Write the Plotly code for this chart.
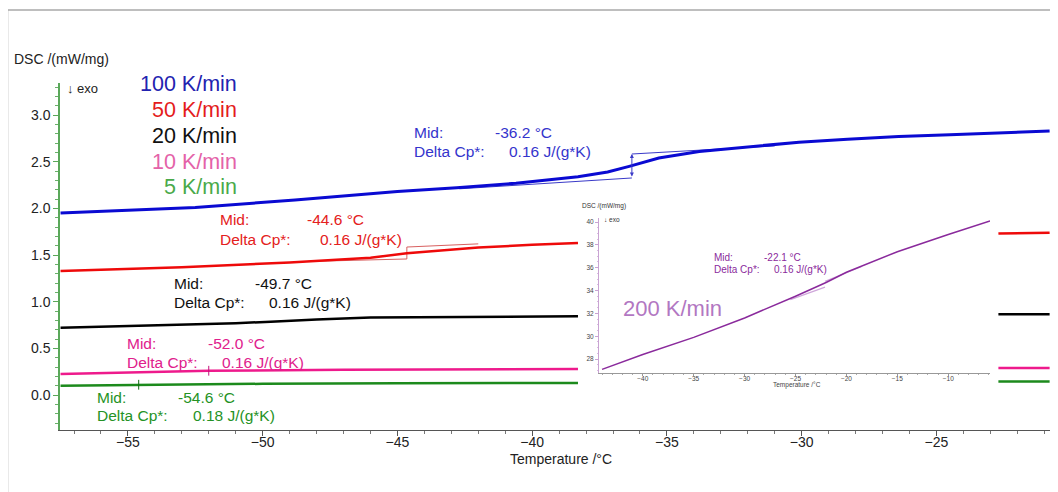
import plotly.graph_objects as go

# ---------------- data ----------------
rate_labels = ["100 K/min", "50 K/min", "20 K/min", "10 K/min", "5 K/min"]

blue_T = [-57.5, -52.5, -48.8, -45.0, -42.8, -40.6, -38.3, -37.2, -36.4, -35.3, -33.8, -32.0, -30.1, -28.3, -26.4, -24.5, -22.7, -20.8]
blue_v = [1.95, 2.01, 2.09, 2.18, 2.22, 2.27, 2.34, 2.39, 2.45, 2.54, 2.61, 2.66, 2.71, 2.74, 2.77, 2.79, 2.81, 2.83]

red_T = [-57.5, -53.0, -49.0, -46.0, -44.65, -42.0, -40.0, -38.3]
red_v = [1.33, 1.37, 1.42, 1.47, 1.52, 1.58, 1.61, 1.63]
red_T2 = [-22.7, -21.6, -20.8]
red_v2 = [1.73, 1.735, 1.74]

black_T = [-57.5, -54.0, -51.0, -49.7, -48.0, -46.0, -44.0, -42.0, -40.0, -38.3]
black_v = [0.72, 0.745, 0.77, 0.785, 0.81, 0.83, 0.835, 0.84, 0.84, 0.845]
black_T2 = [-22.7, -20.8]
black_v2 = [0.865, 0.865]

pink_T = [-57.5, -52.0, -47.0, -42.0, -38.3]
pink_v = [0.225, 0.26, 0.27, 0.275, 0.28]
pink_T2 = [-22.7, -20.8]
pink_v2 = [0.29, 0.29]

green_T = [-57.5, -54.6, -50.0, -45.0, -38.3]
green_v = [0.10, 0.11, 0.12, 0.125, 0.13]
green_T2 = [-22.7, -20.8]
green_v2 = [0.145, 0.145]

# tangent / step construction lines
blue_tan_T = [-42.7, -36.3, None, -36.3, -31.0]
blue_tan_v = [2.21, 2.326, None, 2.583, 2.67]
red_tan_T = [-48.5, -44.65, -44.65, -42.0]
red_tan_v = [1.43, 1.458, 1.586, 1.62]

mid_marks_T = [-52.0, -54.6]
mid_marks_v = [0.26, 0.11]

# inset: 200 K/min
purple_T = [-44.0, -40.0, -35.0, -30.0, -25.0, -22.0, -20.0, -15.0, -10.0, -5.9]
purple_v = [27.1, 28.4, 29.9, 31.6, 33.5, 34.7, 35.6, 37.4, 38.9, 40.1]
purple_tan_T = [-25.5, -22.1, None, -22.1, -18.5]
purple_tan_v = [33.2, 34.3, None, 34.8, 36.1]

results = [
    # (mid text, dcp text, color, left px, mid y px, dcp y px, value-x px mid, value-x px dcp)
    ("-36.2 °C", "0.16 J/(g*K)", "#3434cc", 412, 132, 151, 493, 507),
    ("-44.6 °C", "0.16 J/(g*K)", "#e42020", 218, 219, 239, 305, 318),
    ("-49.7 °C", "0.16 J/(g*K)", "#111111", 172, 283, 302, 253, 267),
    ("-52.0 °C", "0.16 J/(g*K)", "#e0208c", 125, 343, 362, 206, 220),
    ("-54.6 °C", "0.18 J/(g*K)", "#259225", 95, 397, 415, 176, 191),
]

FONT = "Arial, 'Liberation Sans', sans-serif"

# page offset (default body margin) and plot area in reference pixels
OFF = 8
W, H = 1058 - OFF, 492 - OFF
PL, PR, PT, PB = 60, 1055, 83, 430


def fx(px):
    return (px - PL) / (PR - PL)


def fy(py):
    return (PB - py) / (PB - PT)


fig = go.Figure()

def add_line(T, v, color, width, xa="x", ya="y"):
    fig.add_trace(go.Scatter(x=T, y=v, mode="lines", line=dict(color=color, width=width),
                             xaxis=xa, yaxis=ya, showlegend=False, hoverinfo="skip"))

add_line(blue_tan_T, blue_tan_v, "#3a3ac8", 1)
add_line(red_tan_T, red_tan_v, "#d86060", 1)
add_line(blue_T, blue_v, "#0a0ad2", 3)
add_line(red_T, red_v, "#ee0a0a", 2.5)
add_line(red_T2, red_v2, "#ee0a0a", 2.5)
add_line(black_T, black_v, "#000000", 2.5)
add_line(black_T2, black_v2, "#000000", 2.5)
add_line(pink_T, pink_v, "#ee1a8c", 2.5)
add_line(pink_T2, pink_v2, "#ee1a8c", 2.5)
add_line(green_T, green_v, "#1c8a1c", 2.5)
add_line(green_T2, green_v2, "#1c8a1c", 2.5)
fig.add_trace(go.Scatter(x=mid_marks_T, y=mid_marks_v, mode="markers",
                         marker=dict(symbol="line-ns", size=7, line=dict(width=1, color=["#c0107a", "#106a10"])),
                         showlegend=False, hoverinfo="skip"))

add_line(purple_tan_T, purple_tan_v, "#cfa6da", 1.2, "x2", "y2")
add_line(purple_T, purple_v, "#8a2a9c", 1.5, "x2", "y2")

ann = []
# blue double arrow
ann.append(dict(x=-36.3, y=2.583, ax=-36.3, ay=2.326, xref="x", yref="y", axref="x", ayref="y",
                showarrow=True, arrowhead=2, arrowside="end+start", arrowsize=0.8, arrowwidth=1,
                arrowcolor="#3a3ac8", text=""))

def txt(text, px, py, size, color, anchor="left"):
    ann.append(dict(text=text, x=fx(px), y=fy(py), xref="paper", yref="paper", showarrow=False,
                    xanchor=anchor, yanchor="middle", font=dict(family=FONT, size=size, color=color)))

txt("DSC /(mW/mg)", 12, 59, 14, "#222222")
txt("↓ exo", 65, 88, 13, "#222222")

legend_colors = ["#2222b0", "#e41c1c", "#111111", "#e462a8", "#4aaa4a"]
legend_y = [84, 110, 136, 162, 187]
for lab, c, y in zip(rate_labels, legend_colors, legend_y):
    txt(lab, 239, y, 21.5, c, anchor="right")

for mid, dcp, c, lx, my, dy, vx1, vx2 in results:
    txt("Mid:", lx, my, 15.5, c)
    txt(mid, vx1, my, 15.5, c)
    txt("Delta Cp*:", lx, dy, 15.5, c)
    txt(dcp, vx2, dy, 15.5, c)

# axis titles
txt("Temperature /°C", 561, 459, 14, "#222222", anchor="center")
txt("Temperature /°C", 797, 385, 6.5, "#444444", anchor="center")

# inset texts
txt("DSC /(mW/mg)", 580, 206, 6.5, "#333333")
txt("↓ exo", 602, 219, 6.5, "#333333")
txt("Mid:", 712, 257, 10, "#8a2a9c")
txt("-22.1 °C", 762, 257, 10, "#8a2a9c")
txt("Delta Cp*:", 712, 269, 10, "#8a2a9c")
txt("0.16 J/(g*K)", 772, 269, 10, "#8a2a9c")
txt("200 K/min", 621, 308, 22, "#b277c2")

shapes = [
    dict(type="line", xref="paper", yref="paper", x0=fx(7.5), x1=fx(7.5), y0=fy(500), y1=fy(10),
         line=dict(color="#a8a8a8", width=1.5)),
    dict(type="line", xref="paper", yref="paper", x0=fx(7.5), x1=fx(1065), y0=fy(10), y1=fy(10),
         line=dict(color="#a8a8a8", width=1.5)),
]

fig.update_layout(
    width=W, height=H,
    margin=dict(l=PL - OFF, r=(W + OFF) - PR, t=PT - OFF, b=(H + OFF) - PB, pad=0),
    paper_bgcolor="white", plot_bgcolor="white",
    showlegend=False,
    annotations=ann, shapes=shapes,
    font=dict(family=FONT, color="#222222"),
    xaxis=dict(range=[-57.52, -20.6], domain=[0, 1], showgrid=False, zeroline=False,
               showline=True, linecolor="#555555", linewidth=1,
               tick0=-55, dtick=5, ticks="outside", ticklen=5, tickcolor="#555555",
               ticklabelstandoff=-6,
               minor=dict(dtick=1, tick0=-55, ticks="outside", ticklen=3, tickcolor="#777777"),
               tickfont=dict(family=FONT, size=14, color="#222222")),
    yaxis=dict(range=[-0.375, 3.344], domain=[0, 1], showgrid=False, zeroline=False,
               showline=True, linecolor="#5aa85a", linewidth=1.5,
               tick0=0, dtick=0.5, tickformat=".1f", ticks="outside", ticklen=5, tickcolor="#5aa85a",
               minor=dict(dtick=0.1, ticks="outside", ticklen=3, tickcolor="#6ab06a"),
               tickfont=dict(family=FONT, size=14, color="#222222")),
    xaxis2=dict(range=[-44.3, -5.9], domain=[fx(599), fx(990)], anchor="y2", showgrid=False, zeroline=False,
                showline=True, linecolor="#999999", linewidth=1,
                tick0=-40, dtick=5, ticks="outside", ticklen=2, tickcolor="#999999",
                ticklabelstandoff=-3,
                minor=dict(dtick=1, ticks="outside", ticklen=1, tickcolor="#aaaaaa"),
                tickfont=dict(family=FONT, size=6.5, color="#444444")),
    yaxis2=dict(range=[26.78, 40.35], domain=[fy(373), fy(218)], anchor="x2", showgrid=False, zeroline=False,
                showline=True, linecolor="#c9a3d3", linewidth=1,
                tick0=28, dtick=2, ticks="outside", ticklen=3, tickcolor="#c9a3d3",
                minor=dict(dtick=0.5, ticks="outside", ticklen=1.5, tickcolor="#d8bde0"),
                tickfont=dict(family=FONT, size=6.5, color="#444444")),
)

fig.write_html("out.html")
